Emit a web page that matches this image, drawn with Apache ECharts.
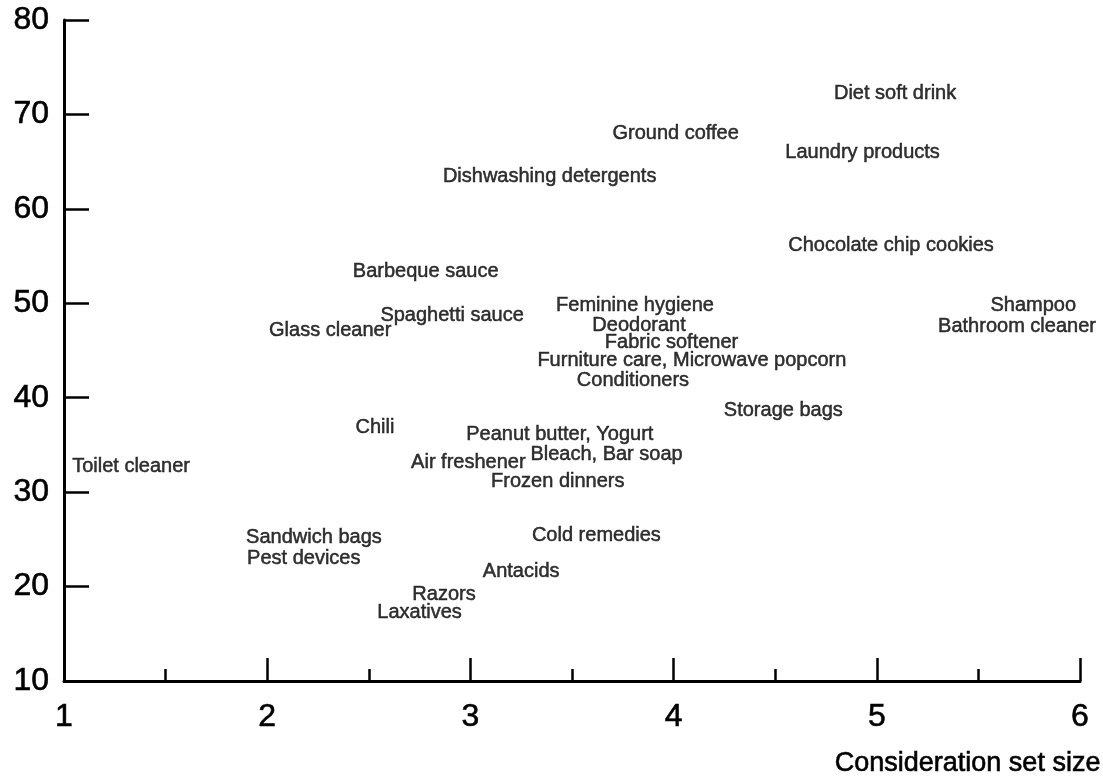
<!DOCTYPE html>
<html>
<head>
<meta charset="utf-8">
<script src="https://cdn.jsdelivr.net/npm/echarts@6/dist/echarts.min.js"></script>
<style>
html,body{margin:0;padding:0;background:#fff;}
#chart{width:1103px;height:783px;}
</style>
</head>
<body>
<div id="chart"></div>
<script>
var categories = [
  "Diet soft drink","Ground coffee","Laundry products","Dishwashing detergents",
  "Chocolate chip cookies","Barbeque sauce","Feminine hygiene","Shampoo",
  "Spaghetti sauce","Deodorant","Bathroom cleaner","Glass cleaner",
  "Fabric softener","Furniture care, Microwave popcorn","Conditioners","Storage bags",
  "Chili","Peanut butter, Yogurt","Bleach, Bar soap","Air freshener",
  "Toilet cleaner","Frozen dinners","Sandwich bags","Cold remedies",
  "Pest devices","Antacids","Razors","Laxatives"
];
var considerationSetSize = [
  5.09,4.01,4.93,3.39,
  5.07,2.78,3.81,5.77,
  2.91,3.83,5.69,2.31,
  3.99,4.09,3.80,4.54,
  2.53,3.44,3.67,2.99,
  1.33,3.43,2.23,3.62,
  2.18,3.25,2.87,2.75
];
var yValues = [
  72.2,68.0,66.0,63.4,
  56.1,53.4,49.8,49.8,
  48.7,47.6,47.5,47.1,
  45.8,43.9,41.8,38.7,
  36.9,36.1,34.0,33.1,
  32.7,31.1,25.2,25.4,
  23.0,21.6,19.2,17.3
];
var xTicks = [1,2,3,4,5,6];
var yTicks = [10,20,30,40,50,60,70,80];

var data = categories.map(function(n,i){ return {name:n, value:[considerationSetSize[i], yValues[i]]}; });
var FONT = '"Liberation Sans", Arial, Helvetica, sans-serif';

var chart = echarts.init(document.getElementById('chart'));
chart.setOption({
  animation:false,
  backgroundColor:'#fff',
  title:{
    text:'Consideration set size',
    right:-3, top:745,
    textStyle:{fontFamily:FONT, fontSize:27, fontWeight:'normal', color:'#000',
      textBorderColor:'#000', textBorderWidth:0.6}
  },
  grid:{left:64, right:23, top:20, bottom:102, containLabel:false},
  xAxis:{
    type:'value', min:xTicks[0], max:xTicks[xTicks.length-1], interval:1,
    splitLine:{show:false},
    axisLine:{lineStyle:{color:'#000', width:3}},
    axisTick:{show:true, inside:true, length:23, lineStyle:{color:'#000', width:2.5}},
    minorTick:{show:true, splitNumber:2, length:12, lineStyle:{color:'#000', width:2.5}},
    axisLabel:{fontFamily:FONT, fontSize:32, color:'#000', margin:20,
      textBorderColor:'#000', textBorderWidth:0.6}
  },
  yAxis:{
    type:'value', min:yTicks[0], max:yTicks[yTicks.length-1], interval:10,
    splitLine:{show:false},
    axisLine:{lineStyle:{color:'#000', width:3}},
    axisTick:{show:true, inside:true, length:25, lineStyle:{color:'#000', width:2.5}},
    axisLabel:{fontFamily:FONT, fontSize:32, color:'#000', margin:15,
      textBorderColor:'#000', textBorderWidth:0.6}
  },
  series:[{
    type:'scatter',
    data:data,
    symbolSize:1,
    itemStyle:{color:'rgba(0,0,0,0)'},
    label:{
      show:true, position:'inside', formatter:'{b}',
      fontFamily:FONT, fontSize:20, color:'#000',
      textBorderColor:'#000', textBorderWidth:0.5
    },
    emphasis:{disabled:true},
    labelLayout:{hideOverlap:false}
  }]
});
</script>
</body>
</html>
